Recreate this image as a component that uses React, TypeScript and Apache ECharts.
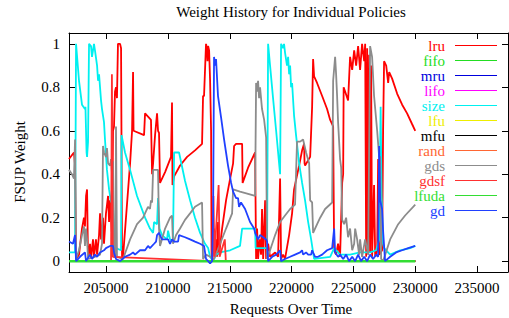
import React, { useEffect, useRef } from "react";
import * as echarts from "echarts";

const FONT = '"Liberation Serif", "Times New Roman", serif';

const seriesNames = ["lru", "fifo", "mru", "lifo", "size", "lfu", "mfu", "rand", "gds", "gdsf", "lfuda", "gd"];
const seriesColors = ["#ff0000", "#22dd22", "#0000dd", "#ff00ff", "#00f0f0", "#eeee00", "#000000", "#ff6633", "#8c8c8c", "#ff3030", "#33dd33", "#2040ff"];

const xTicks = [205000, 210000, 215000, 220000, 225000, 230000, 235000];
const yTicks = [0, 0.2, 0.4, 0.6, 0.8, 1];

const lruData = [
  [202000, 0.47], [202400, 0.5], [202490, 0.44], [202570, 0.01], [202810, 0.03], [203050, 0.15], [203210, 0.2],
  [203290, 0.16], [203380, 0.3], [203460, 0.33], [203540, 0.01], [203700, 0.08], [203780, 0.01], [203940, 0.1],
  [204020, 0.02], [204180, 0.1], [204270, 0.03], [204430, 0.12], [204510, 0.22], [204590, 0.1], [204750, 0.2],
  [204830, 0.08], [204990, 0.22], [205160, 0.3], [205240, 0.18], [205320, 0.28], [205480, 0.12], [205560, 0.6],
  [205640, 0.62], [205720, 0.78], [205800, 0.8], [205880, 0.75], [205960, 1.0], [206130, 1.0], [206210, 0.98],
  [206290, 0.01], [206370, 0.02], [206940, 0.45], [207100, 0.6], [207180, 0.87], [207220, 0.6], [208070, 0.58],
  [208150, 0.68], [208630, 0.65], [208720, 0.4], [208800, 0.45], [208960, 0.58], [209120, 0.68], [209200, 0.6],
  [209280, 0.59], [209360, 0.36], [209770, 0.41], [210250, 0.48], [210330, 0.73], [210370, 0.35], [210500, 0.39],
  [210980, 0.44], [211550, 0.48], [212190, 0.51], [212760, 0.54], [212840, 0.76], [212920, 0.76], [213080, 1.0],
  [213160, 0.98], [213200, 0.92], [213250, 0.99], [213330, 0.97], [213410, 0.83], [213490, 0.6], [213530, 0.01],
  [213730, 0.15], [213770, 0.02], [213890, 0.1], [213970, 0.02], [214050, 0.18], [214140, 0.03], [214380, 0.15],
  [214700, 0.28], [215030, 0.38], [215270, 0.45], [215350, 0.53], [215510, 0.54], [216000, 0.54], [216040, 0.36],
  [216480, 0.43], [217050, 0.5], [217130, 0.01], [217210, 0.15], [217290, 0.01], [217410, 0.1], [217530, 0.03],
  [217610, 0.24], [217700, 0.01], [217860, 0.28], [217940, 0.01], [218100, 0.08], [218260, 0.02], [218670, 0.04],
  [218910, 0.02], [219070, 0.38], [219150, 0.01], [219310, 0.03], [219470, 0.01], [219800, 0.12], [220040, 0.22],
  [220200, 0.33], [220610, 0.44], [220850, 0.51], [221010, 0.54], [221050, 0.45], [221090, 0.44], [221500, 0.48],
  [221660, 0.71], [221740, 0.93], [221820, 0.85], [222060, 0.82], [222470, 0.76], [222870, 0.7], [223120, 0.65],
  [223360, 0.62], [223440, 0.05], [223600, 0.03], [223760, 0.08], [223920, 0.02], [224090, 0.36], [224170, 0.4],
  [224210, 0.8], [224570, 0.74], [224730, 0.94], [224900, 0.88], [225060, 0.97], [225220, 0.9], [225380, 0.99],
  [225540, 0.88], [225700, 1.0], [225870, 0.92], [225950, 1.0], [226030, 0.02], [226110, 0.98], [226190, 0.03],
  [226270, 0.95], [226350, 0.04], [226430, 0.9], [226510, 0.02], [226670, 0.35], [226760, 0.02], [226920, 0.05],
  [227000, 0.47], [227080, 0.03], [227320, 0.05], [227400, 0.6], [227480, 0.92], [227650, 0.9], [227810, 0.82],
  [227890, 0.87], [228130, 0.84], [228540, 0.77], [228940, 0.72], [229340, 0.68], [229750, 0.63], [230000, 0.6],
];

const sizeData = [
  [202000, 0.04], [202490, 0.04], [202570, 1.0], [202810, 0.83], [203050, 0.72], [203290, 0.7], [203330, 0.71],
  [203420, 0.5], [203460, 0.48], [203540, 0.55], [203620, 1.0], [203780, 0.99], [203860, 0.94], [204020, 1.0],
  [204100, 0.97], [204270, 0.9], [204350, 0.83], [204430, 0.86], [204510, 0.8], [204590, 0.74], [204670, 0.7],
  [204750, 0.67], [204830, 0.64], [204910, 0.56], [205070, 0.42], [205240, 0.33], [205400, 0.27], [205480, 0.29],
  [205560, 0.25], [205640, 0.15], [205800, 0.06], [206210, 0.05], [206250, 0.58], [206530, 0.5], [206940, 0.42],
  [207500, 0.3], [208150, 0.2], [208550, 0.15], [208800, 0.13], [208880, 0.18], [209120, 0.17], [209200, 0.29],
  [209320, 0.15], [209520, 0.12], [209930, 0.1], [210010, 0.14], [210170, 0.1], [210410, 0.09], [210500, 0.5],
  [210900, 0.5], [211380, 0.37], [211790, 0.28], [212190, 0.2], [212600, 0.13], [213000, 0.08], [213250, 0.06],
  [213410, 0.02], [213650, 0.0], [213890, 0.03], [214220, 0.04], [215030, 0.05], [215830, 0.07], [216000, 0.15],
  [217050, 0.15], [217090, 0.06], [218020, 0.06], [218100, 1.0], [218260, 0.9], [218500, 0.75], [218750, 0.6],
  [218990, 0.45], [219070, 0.4], [219150, 1.0], [219310, 0.98], [219390, 1.0], [219470, 0.96], [219630, 0.9],
  [219720, 0.94], [219800, 0.86], [219880, 0.9], [219960, 0.8], [220040, 0.82], [220200, 0.67], [220360, 0.58],
  [220610, 0.45], [220850, 0.36], [221090, 0.28], [221340, 0.18], [221580, 0.1], [221820, 0.01], [223120, 0.02],
  [223440, 0.06], [223920, 0.03], [224730, 0.03], [225540, 0.04], [226350, 0.04], [226840, 0.05], [227080, 0.1],
  [227200, 0.71], [227280, 0.3], [227400, 0.08], [227480, 0.06], [227970, 0.03], [228780, 0.05], [229590, 0.06],
  [230000, 0.07],
];

const gdsData = [
  [202000, 0.42], [202240, 0.4], [202400, 0.38], [202490, 0.56], [202570, 0.01], [202810, 0.05], [203050, 0.12],
  [203210, 0.16], [203290, 0.07], [203380, 0.15], [203460, 0.1], [203540, 0.01], [204100, 0.02], [204510, 0.03],
  [204670, 0.08], [204750, 0.53], [204830, 0.5], [204990, 0.48], [205070, 0.52], [205160, 0.45], [205320, 0.44],
  [205400, 0.47], [205480, 0.4], [205560, 0.46], [205640, 0.02], [205760, 0.02], [205800, 0.62], [205880, 0.02],
  [206370, 0.01], [206940, 0.1], [207500, 0.17], [207990, 0.2], [208230, 0.23], [208390, 0.25], [208550, 0.24],
  [208630, 0.28], [208720, 0.27], [208800, 0.42], [208960, 0.42], [209200, 0.42], [209280, 0.15], [209360, 0.07],
  [209770, 0.15], [210170, 0.2], [210330, 0.21], [210410, 0.08], [210660, 0.12], [210980, 0.15], [211380, 0.19],
  [211790, 0.22], [212190, 0.25], [212760, 0.27], [212840, 0.01], [213080, 0.03], [213410, 0.02], [213730, 0.01],
  [214220, 0.08], [214700, 0.15], [215190, 0.22], [215270, 0.33], [215830, 0.32], [216480, 0.31], [217050, 0.3],
  [217130, 0.82], [217210, 0.78], [217290, 0.83], [217370, 0.75], [217450, 0.8], [217610, 0.7], [217780, 0.65],
  [217940, 0.57], [218020, 0.01], [218260, 0.05], [218670, 0.12], [219070, 0.18], [219470, 0.21], [219880, 0.24],
  [220280, 0.26], [220440, 0.55], [220690, 0.55], [220930, 0.56], [221170, 0.5], [221420, 0.45], [221500, 0.28],
  [221660, 0.27], [221740, 0.13], [221980, 0.16], [222310, 0.2], [222710, 0.24], [223280, 0.27], [223360, 0.83],
  [223520, 0.94], [223600, 0.86], [223680, 0.76], [223760, 0.64], [223920, 0.47], [224010, 0.43], [224090, 0.19],
  [224250, 0.17], [224410, 0.2], [224570, 0.11], [224730, 0.15], [224900, 0.05], [225060, 0.08], [225140, 0.15],
  [225300, 0.1], [225460, 0.03], [225540, 0.1], [225700, 0.02], [225950, 0.1], [226190, 0.03], [226350, 0.99],
  [226510, 0.94], [226670, 0.76], [226920, 0.6], [227080, 0.48], [227160, 0.48], [227240, 0.01], [227400, 0.0],
  [227970, 0.1], [228620, 0.17], [229180, 0.21], [230000, 0.26],
];

const gdsfData = [
  [202000, 0], [205400, 0], [205470, 0.86], [205540, 0.02], [213600, 0], [213680, 0.3], [213760, 0.02],
  [214100, 0.35], [214180, 0.02], [214600, 0.1], [214680, 0], [230000, 0],
];

const gdData = [
  [202000, 0.09], [202320, 0.08], [202490, 0.12], [202570, 0.0], [202890, 0.02], [203290, 0.04], [203380, 0.0],
  [203700, 0.03], [203860, 0.01], [204100, 0.03], [204270, 0.02], [204510, 0.04], [204830, 0.05], [204990, 0.06],
  [205320, 0.07], [205560, 0.07], [205640, 0.04], [205800, 0.01], [206130, 0.0], [206530, 0.02], [206940, 0.03],
  [207180, 0.04], [207340, 0.03], [207740, 0.05], [208150, 0.05], [208390, 0.07], [208550, 0.06], [208880, 0.08],
  [209040, 0.09], [209120, 0.12], [209280, 0.13], [209520, 0.1], [209770, 0.1], [210010, 0.1], [210170, 0.08],
  [210330, 0.1], [210500, 0.09], [210820, 0.09], [210900, 0.12], [211380, 0.11], [211790, 0.1], [212190, 0.09],
  [212600, 0.08], [212920, 0.07], [213080, 0.01], [213250, 0.0], [213410, -0.01], [213570, 0.0], [213650, 0.2],
  [213730, 0.94], [213810, 0.9], [213890, 0.93], [214050, 0.76], [214300, 0.66], [214540, 0.56], [214700, 0.5],
  [214860, 0.44], [215110, 0.36], [215270, 0.32], [215510, 0.29], [215670, 0.29], [215750, 0.25], [215910, 0.27],
  [216240, 0.24], [216640, 0.18], [216970, 0.15], [217050, 0.13], [217290, 0.1], [217450, 0.12], [217700, 0.11],
  [217940, 0.1], [218020, 0.09], [218100, 0.0], [218430, 0.02], [218750, 0.03], [219070, 0.05], [219150, 0.0],
  [219470, 0.01], [219880, 0.02], [220280, 0.03], [220690, 0.04], [220850, 0.05], [220930, 0.03], [221170, 0.04],
  [221340, 0.03], [221580, 0.03], [221660, 0.05], [221900, 0.02], [222140, 0.02], [222470, 0.03], [222870, 0.05],
  [223280, 0.06], [223440, 0.15], [223520, 0.04], [223760, 0.02], [223920, 0.03], [224170, 0.01], [224410, 0.03],
  [224650, 0.0], [224900, 0.02], [225140, 0.0], [225380, 0.03], [225620, 0.0], [225870, 0.02], [226110, 0.0],
  [226350, 0.03], [226590, 0.01], [226840, 0.03], [227000, 0.02], [227080, 0.53], [227160, 0.28], [227320, 0.24],
  [227400, 0.14], [227480, 0.07], [227560, 0.0], [227970, 0.02], [228450, 0.04], [228940, 0.05], [229430, 0.06],
  [230000, 0.07],
];

const zeroData = [[202000, 0], [230000, 0]];

const seriesData = [lruData, zeroData, zeroData, zeroData, sizeData, zeroData, zeroData, zeroData, gdsData, gdsfData, zeroData, gdData];

const X_MIN = 202000;
const X_MAX = 237500;
const Y_MIN = -0.05;
const Y_MAX = 1.05;

export default function App() {
  const ref = useRef<HTMLDivElement>(null);
  useEffect(() => {
    if (!ref.current) return;
    const chart = echarts.init(ref.current, null, { renderer: "svg" });
    const axisLine = { show: true, onZero: false, lineStyle: { color: "#000", width: 1 } };
    const tick = (vals: number[]) => ({ show: true, inside: true, length: 6, customValues: vals, lineStyle: { color: "#000", width: 1 } });
    const legendGraphics: any[] = [];
    seriesNames.forEach((name, i) => {
      const y = 45.5 + 15 * i;
      legendGraphics.push({
        type: "text",
        x: 445,
        y,
        style: { text: name, fill: seriesColors[i], font: `15px ${FONT}`, textAlign: "right", textVerticalAlign: "middle" },
      });
      legendGraphics.push({
        type: "line",
        shape: { x1: 455, y1: y, x2: 497, y2: y },
        style: { stroke: seriesColors[i], lineWidth: 1 },
      });
    });
    chart.setOption({
      animation: false,
      backgroundColor: "#ffffff",
      grid: { left: 69, right: 1, top: 33, bottom: 46, containLabel: false },
      xAxis: [
        {
          type: "value", position: "bottom", min: X_MIN, max: X_MAX,
          axisLine, axisTick: tick(xTicks),
          axisLabel: { customValues: xTicks, formatter: (v: number) => String(v), color: "#000", fontFamily: FONT, fontSize: 15, margin: 8 },
          splitLine: { show: false },
        },
        {
          type: "value", position: "top", min: X_MIN, max: X_MAX,
          axisLine, axisTick: tick(xTicks), axisLabel: { show: false }, splitLine: { show: false },
        },
      ],
      yAxis: [
        {
          type: "value", position: "left", min: Y_MIN, max: Y_MAX,
          axisLine, axisTick: tick(yTicks),
          axisLabel: { customValues: yTicks, formatter: (v: number) => String(v), color: "#000", fontFamily: FONT, fontSize: 15, margin: 9 },
          splitLine: { show: false },
        },
        {
          type: "value", position: "right", min: Y_MIN, max: Y_MAX,
          axisLine, axisTick: tick(yTicks), axisLabel: { show: false }, splitLine: { show: false },
        },
      ],
      graphic: [
        {
          type: "text", x: 291, y: 12,
          style: { text: "Weight History for Individual Policies", fill: "#000", font: `15px ${FONT}`, textAlign: "center", textVerticalAlign: "middle" },
        },
        {
          type: "text", x: 291, y: 309,
          style: { text: "Requests Over Time", fill: "#000", font: `15px ${FONT}`, textAlign: "center", textVerticalAlign: "middle" },
        },
        {
          type: "text", x: 20, y: 162, rotation: Math.PI / 2,
          style: { text: "FSUP Weight", fill: "#000", font: `15px ${FONT}`, textAlign: "center", textVerticalAlign: "middle" },
        },
        ...legendGraphics,
      ],
      series: seriesNames.map((name, i) => ({
        name,
        type: "line",
        xAxisIndex: 0,
        yAxisIndex: 0,
        data: seriesData[i],
        showSymbol: false,
        symbol: "none",
        clip: true,
        lineStyle: { color: seriesColors[i], width: name === "lfuda" ? 2.5 : 1.8 },
        itemStyle: { color: seriesColors[i] },
      })),
    });
    return () => chart.dispose();
  }, []);
  return <div ref={ref} style={{ width: 509, height: 318, position: "absolute", left: 0, top: 0 }} />;
}
